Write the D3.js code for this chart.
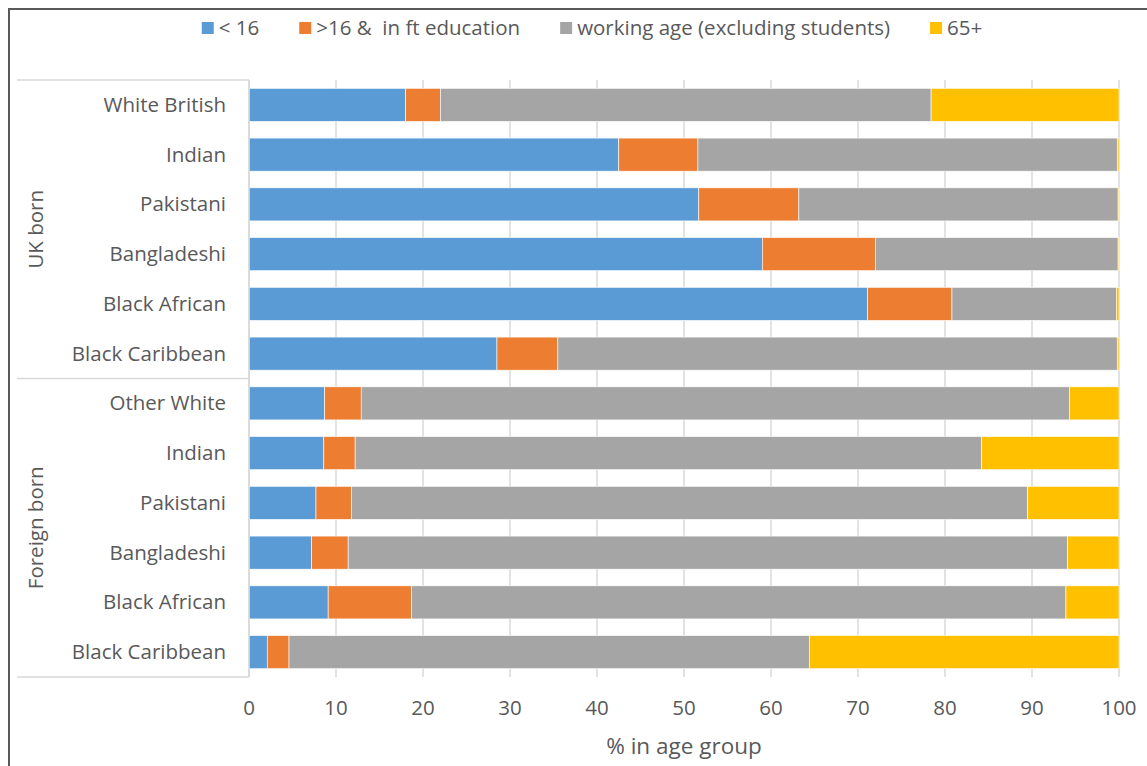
<!DOCTYPE html>
<html lang="en">
	<head>
		<meta charset="utf-8">
		<title>D3: Age structure by ethnic group and birthplace</title>
		<script type="text/javascript" src="https://cdn.jsdelivr.net/npm/d3@7"></script>
		<style type="text/css">
			body { margin: 0; background: #fff; }
			text { font-family: "Open Sans", sans-serif; fill: #595959; }
		</style>
	</head>
	<body>
		<script type="text/javascript">
			//Width and height
			var w = 1147;
			var h = 766;

			//Data
			var groups = ["UK born", "Foreign born"];
			var categories = ["White British", "Indian", "Pakistani", "Bangladeshi", "Black African", "Black Caribbean",
							  "Other White", "Indian", "Pakistani", "Bangladeshi", "Black African", "Black Caribbean"];
			var groupOf = [0, 0, 0, 0, 0, 0, 1, 1, 1, 1, 1, 1];
			var under16 = [18.0, 42.5, 51.7, 59.0, 71.1, 28.5, 8.7, 8.6, 7.7, 7.2, 9.1, 2.1];
			var ftEdu   = [ 4.0,  9.1, 11.5, 13.0,  9.7,  7.0, 4.2, 3.6, 4.1, 4.2, 9.6, 2.5];
			var working = [56.4, 48.2, 36.7, 27.9, 18.9, 64.3, 81.4, 72.0, 77.7, 82.7, 75.2, 59.8];
			var over65  = [21.6,  0.2,  0.1,  0.1,  0.3,  0.2, 5.7, 15.8, 10.5, 5.9, 6.1, 35.6];
			var seriesNames = ["< 16", ">16 &  in ft education", "working age (excluding students)", "65+"];
			var colors = ["#5B9BD5", "#ED7D31", "#A5A5A5", "#FFC000"];
			var xTicks = [0, 10, 20, 30, 40, 50, 60, 70, 80, 90, 100];

			//Table for d3.stack
			var rows = categories.map(function(c, i) {
				return { idx: i, s0: under16[i], s1: ftEdu[i], s2: working[i], s3: over65[i] };
			});
			var stacked = d3.stack().keys(["s0", "s1", "s2", "s3"])(rows);

			//Plot area
			var plotLeft = 249, plotRight = 1119, plotTop = 80, plotBottom = 677;

			var xScale = d3.scaleLinear()
							.domain([0, 100])
							.range([plotLeft, plotRight]);

			var yScale = d3.scaleBand()
							.domain(d3.range(categories.length))
							.range([plotTop, plotBottom])
							.paddingInner(0.335)
							.paddingOuter(0.1675);

			//Create SVG element
			var svg = d3.select("body")
						.append("svg")
						.attr("width", w)
						.attr("height", h);

			//Outer frame (left and top edges only visible)
			svg.append("line")
			   .attr("x1", 8).attr("x2", w).attr("y1", 9).attr("y2", 9)
			   .attr("stroke", "#595959").attr("stroke-width", 2);
			svg.append("line")
			   .attr("x1", 9).attr("x2", 9).attr("y1", 8).attr("y2", h)
			   .attr("stroke", "#595959").attr("stroke-width", 2);

			//Gridlines
			svg.selectAll("line.grid")
			   .data(xTicks)
			   .enter()
			   .append("line")
			   .attr("class", "grid")
			   .attr("x1", function(d) { return xScale(d); })
			   .attr("x2", function(d) { return xScale(d); })
			   .attr("y1", plotTop)
			   .attr("y2", plotBottom)
			   .attr("stroke", "#D9D9D9")
			   .attr("stroke-width", 1.5);

			//Group separators for the category table
			var groupBounds = [plotTop, yScale(6) - yScale.step() * yScale.paddingInner() / 2, plotBottom];
			svg.selectAll("line.sep")
			   .data(groupBounds)
			   .enter()
			   .append("line")
			   .attr("class", "sep")
			   .attr("x1", 17)
			   .attr("x2", plotLeft)
			   .attr("y1", function(d) { return d; })
			   .attr("y2", function(d) { return d; })
			   .attr("stroke", "#D9D9D9")
			   .attr("stroke-width", 1.5);

			//Create bars
			svg.selectAll("g.series")
			   .data(stacked)
			   .enter()
			   .append("g")
			   .attr("class", "series")
			   .attr("fill", function(d, i) { return colors[i]; })
			   .selectAll("rect")
			   .data(function(d) { return d; })
			   .enter()
			   .append("rect")
			   .attr("x", function(d) { return xScale(d[0]); })
			   .attr("y", function(d) { return yScale(d.data.idx); })
			   .attr("width", function(d) { return Math.max(0, xScale(d[1]) - xScale(d[0])); })
			   .attr("height", yScale.bandwidth())
			   .attr("stroke", "#fff")
			   .attr("stroke-width", 0.6);

			//Category axis line
			svg.append("line")
			   .attr("x1", plotLeft).attr("x2", plotLeft).attr("y1", plotTop).attr("y2", plotBottom)
			   .attr("stroke", "#D9D9D9").attr("stroke-width", 1.5);

			//Category labels
			svg.selectAll("text.cat")
			   .data(categories)
			   .enter()
			   .append("text")
			   .attr("class", "cat")
			   .text(function(d) { return d; })
			   .attr("text-anchor", "end")
			   .attr("x", 226)
			   .attr("y", function(d, i) { return yScale(i) + yScale.bandwidth() / 2 + 7; })
			   .attr("font-size", "20.5px");

			//Group labels
			svg.selectAll("text.group")
			   .data(groups)
			   .enter()
			   .append("text")
			   .attr("class", "group")
			   .text(function(d) { return d; })
			   .attr("text-anchor", "middle")
			   .attr("transform", function(d, i) {
			   		return "translate(43," + ((groupBounds[i] + groupBounds[i + 1]) / 2) + ") rotate(-90)";
			   })
			   .attr("font-size", "20.5px");

			//X tick labels
			svg.selectAll("text.tick")
			   .data(xTicks)
			   .enter()
			   .append("text")
			   .attr("class", "tick")
			   .text(function(d) { return d; })
			   .attr("text-anchor", "middle")
			   .attr("x", function(d) { return xScale(d); })
			   .attr("y", 715)
			   .attr("font-size", "20.5px");

			//X axis title
			svg.append("text")
			   .text("% in age group")
			   .attr("text-anchor", "middle")
			   .attr("x", (plotLeft + plotRight) / 2)
			   .attr("y", 754)
			   .attr("font-size", "22.5px");

			//Legend
			var legend = svg.append("g");
			var lx = 0;
			var gap = 40;
			seriesNames.forEach(function(name, i) {
				var item = legend.append("g").attr("transform", "translate(" + lx + ",0)");
				item.append("rect")
					.attr("x", 0).attr("y", 22)
					.attr("width", 12).attr("height", 12)
					.attr("fill", colors[i]);
				var t = item.append("text")
					.text(name)
					.attr("x", 17)
					.attr("y", 35)
					.attr("font-size", "20.5px")
					.style("white-space", "pre");
				lx += 17 + t.node().getComputedTextLength() + gap;
			});
			var legendWidth = lx - gap;
			legend.attr("transform", "translate(" + (592 - legendWidth / 2) + ",0)");
		</script>
	</body>
</html>
